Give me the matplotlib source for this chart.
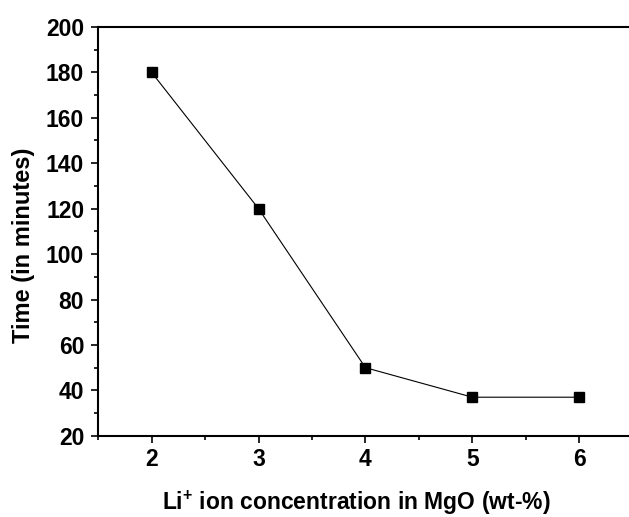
import matplotlib
matplotlib.use("Agg")
import matplotlib.pyplot as plt
from matplotlib.ticker import MultipleLocator

conc = [2, 3, 4, 5, 6]
time_min = [180, 120, 50, 37, 37]

plt.rcParams['font.family'] = ['Liberation Sans', 'DejaVu Sans']
plt.rcParams['font.weight'] = 'bold'
plt.rcParams['mathtext.fontset'] = 'custom'
plt.rcParams['mathtext.rm'] = 'Liberation Sans:bold'
plt.rcParams['mathtext.bf'] = 'Liberation Sans:bold'

fig = plt.figure(figsize=(6.29, 5.17), dpi=100)
ax = fig.add_axes([0.156, 0.157, 0.85, 0.791])

ax.plot(conc, time_min, color='black', lw=0.8, marker='s', ms=6.5, mfc='black', mec='black')

ax.set_xlim(1.5, 6.5)
ax.set_ylim(20, 200)
ax.xaxis.set_major_locator(MultipleLocator(1))
ax.xaxis.set_minor_locator(MultipleLocator(0.5))
ax.yaxis.set_major_locator(MultipleLocator(20))
ax.yaxis.set_minor_locator(MultipleLocator(10))

ax.tick_params(which='both', direction='out', width=1.2, labelsize=16.5)
ax.tick_params(which='major', length=5)
ax.tick_params(which='minor', length=3)
ax.tick_params(axis='x', pad=4)
ax.tick_params(axis='y', pad=5)
for lbl in ax.get_xticklabels() + ax.get_yticklabels():
    lbl.set_fontweight('bold')
for s in ax.spines.values():
    s.set_linewidth(1.5)

fig.text(0.038, 0.526, 'Time (in minutes)', rotation=90, ha='center', va='center',
         fontsize=17, fontweight='bold')
fig.text(0.566, 0.0135, r'Li$^{\mathbf{+}}$ ion concentration in MgO (wt-%)',
         ha='center', va='baseline', fontsize=16.5, fontweight='bold')

fig.savefig('out.png', dpi=100)
